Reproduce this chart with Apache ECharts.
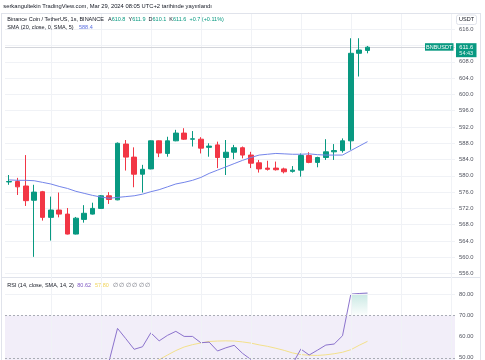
<!DOCTYPE html>
<html><head><meta charset="utf-8">
<script src="https://cdn.jsdelivr.net/npm/echarts@6/dist/echarts.min.js"></script>
<style>html,body{margin:0;padding:0;background:#fff}#c{width:485px;height:360px}</style>
</head><body><div id="c"></div>
<script>
// 54 one-second slots; the last 10 are empty (future space)
const categories = ['1','2','3','4','5','6','7','8','9','10','11','12','13','14','15','16','17','18','19','20','21','22','23','24','25','26','27','28','29','30','31','32','33','34','35','36','37','38','39','40','41','42','43','44','45','46','47','48','49','50','51','52','53','54'];
const opens  = [578.5,578.6,577.5,574.0,576.1,569.8,571.6,570.6,565.7,569.3,570.6,572.0,575.1,574.1,587.8,584.6,580.4,581.7,588.6,585.5,588.6,590.5,589.0,589.0,587.0,587.6,584.5,585.8,586.9,585.1,583.2,581.9,581.9,581.7,581.1,581.4,585.0,583.3,584.5,585.9,586.2,588.6,610.1,610.8];
const closes = [578.6,577.3,573.9,576.0,569.8,571.6,570.6,565.7,569.6,570.8,572.0,575.1,574.2,588.0,584.6,580.4,581.6,588.6,585.6,588.6,590.5,589.0,589.1,586.8,587.3,584.5,585.8,586.9,585.1,583.1,581.7,581.6,581.5,581.0,581.4,585.0,583.3,584.5,585.9,586.2,588.6,610.1,610.9,611.6];
const highs  = [580.2,579.5,585.1,577.8,576.3,574.9,575.9,572.1,569.9,572.8,573.4,575.3,576.0,588.2,588.8,587.0,582.7,588.7,588.7,589.6,591.3,591.7,591.0,589.5,588.0,588.4,588.8,587.6,587.2,585.9,583.9,583.7,583.5,582.0,582.4,585.5,585.8,584.7,589.0,587.8,589.2,613.8,613.8,611.9];
const lows   = [577.8,575.3,572.6,560.1,569.0,564.1,569.8,565.6,565.6,568.5,570.5,571.9,573.1,574.0,581.3,577.2,575.9,581.6,584.6,584.7,588.5,588.8,587.2,585.5,584.7,581.9,580.2,584.1,584.3,581.9,580.8,581.3,581.3,580.6,580.8,579.8,583.1,582.1,583.9,583.9,585.7,586.4,604.4,610.1];
const smaValues = [579.0,578.9,578.9,578.8,578.4,578.0,577.4,576.9,576.2,575.7,575.2,574.8,574.5,574.7,574.9,575.1,575.5,576.1,576.6,577.3,578.0,578.4,578.9,579.6,580.6,581.4,582.2,583.0,583.8,584.5,585.1,585.3,585.5,585.4,585.3,585.3,585.4,585.2,585.1,585.1,585.1,586.2,587.3,588.4];
const rsiValues = [null,null,null,null,null,null,null,null,null,null,null,42,48.5,63.9,59.0,54.0,55.2,61.8,58.0,60.6,62.5,60.1,60.1,57.1,57.4,53.2,54.7,55.9,52.1,49.2,46.5,45.5,45.0,43.5,47.0,54.1,51.3,53.6,56.0,56.5,60.4,80.1,80.4,80.62];
const rsiMaValues = [null,null,null,null,null,null,null,null,null,null,null,null,null,null,null,null,null,46.5,49.1,51.3,53.4,55.1,56.2,57.0,57.7,57.9,58.0,57.9,57.5,56.95,56.1,55.4,54.5,53.5,52.3,51.5,51.2,51.1,51.4,51.9,52.6,53.8,55.9,57.8];
const priceTicks = [556,560,564,568,572,576,580,584,588,592,596,600,604,608,616];
const priceGrid = [556,560,564,568,572,576,580,584,588,592,596,600,604,608,612,616];
const rsiTicks = [50,60,70,80];
const vGridIdx = [5,11,17,23,29,35,41,47,53];
const lastPrice = 611.6;

const FONT = 'Liberation Sans, Arial, sans-serif';
const chart = echarts.init(document.getElementById('c'), null, {renderer:'canvas'});

const candleData = opens.map((o,i)=>[o, closes[i], lows[i], highs[i]]);
const fillData = rsiValues.map((v,i)=> (v !== null && v >= 70) ? v : null);

const gridLineStyle = {color:'#f0f2f6', width:1, type:'solid'};

chart.setOption({
  animation:false,
  backgroundColor:'#ffffff',
  textStyle:{fontFamily:FONT},
  grid:[
    {left:5, right:30, top:13, height:264, outerBoundsMode:'none'},
    {left:5, right:30, top:277, height:101.9, outerBoundsMode:'none'}
  ],
  xAxis:[
    {type:'category', data:categories, gridIndex:0, boundaryGap:true, show:false},
    {type:'category', data:categories, gridIndex:1, boundaryGap:true, show:false}
  ],
  yAxis:[
    {type:'value', gridIndex:0, position:'right', min:555.15, max:620, scale:true,
     axisLine:{show:false}, axisTick:{show:false}, splitLine:{show:false},
     axisLabel:{customValues:priceTicks, formatter:v=>v.toFixed(1), fontSize:5.8, color:'#50535e', margin:4, fontFamily:FONT}},
    {type:'value', gridIndex:1, position:'right', min:40, max:88.2,
     axisLine:{show:false}, axisTick:{show:false}, splitLine:{show:false},
     axisLabel:{customValues:rsiTicks, formatter:v=>v.toFixed(2), fontSize:5.8, color:'#50535e', margin:4, fontFamily:FONT}}
  ],
  series:[
    {type:'candlestick', xAxisIndex:0, yAxisIndex:0, data:candleData, barWidth:5,
     itemStyle:{color:'#089981', color0:'#F23645', borderColor:'#089981', borderColor0:'#F23645', borderColorDoji:'#089981', borderWidth:1},
     markLine:{silent:true, symbol:'none', label:{show:false}, lineStyle:gridLineStyle, z:0,
       data:[
         ...vGridIdx.map(i=>({xAxis:categories[i]})),
         ...priceGrid.map(v=>({yAxis:v})),
         {yAxis:lastPrice, lineStyle:{color:'#d3d5db', width:1, type:'solid'}}
       ]}
    },
    {type:'line', xAxisIndex:0, yAxisIndex:0, data:smaValues, showSymbol:false, symbol:'none',
     lineStyle:{color:'#7485ea', width:1}, z:3},
    {type:'line', xAxisIndex:1, yAxisIndex:1, data:fillData, showSymbol:false, symbol:'none',
     lineStyle:{width:0}, connectNulls:false,
     areaStyle:{origin:70, color:new echarts.graphic.LinearGradient(0,0,0,1,[{offset:0,color:'rgba(8,153,129,0.32)'},{offset:1,color:'rgba(8,153,129,0.02)'}])},
     markArea:{silent:true, itemStyle:{color:'rgba(126,87,194,0.1)'}, data:[[{yAxis:30},{yAxis:70}]]},
     markLine:{silent:true, symbol:'none', label:{show:false},
       data:[
         ...vGridIdx.map(i=>({xAxis:categories[i], lineStyle:gridLineStyle})),
         {yAxis:80, lineStyle:gridLineStyle},
         {yAxis:70, lineStyle:{color:'#a9acb5', width:1, type:[2,2]}},
         {yAxis:50, lineStyle:{color:'#a9acb5', width:1, type:[2,2]}},
         {yAxis:30, lineStyle:{color:'#a9acb5', width:1, type:[2,2]}}
       ]}
    },
    {type:'line', xAxisIndex:1, yAxisIndex:1, data:rsiMaValues, showSymbol:false, symbol:'none',
     lineStyle:{color:'#f3e08a', width:1}, z:3},
    {type:'line', xAxisIndex:1, yAxisIndex:1, data:rsiValues, showSymbol:false, symbol:'none',
     lineStyle:{color:'#8b72cc', width:1}, z:4}
  ]
});

const tagY = chart.convertToPixel({yAxisIndex:0}, lastPrice);
const dark = '#131722';
const t = (x, y, text, color, size, extra) => Object.assign({type:'text', x:x, y:y, silent:true, z:100,
  style:{text:text, fill:color, font:(size||5.5)+'px '+FONT, verticalAlign:'middle', align:'left'}}, extra||{});

chart.setOption({graphic:[
  // frame lines
  {type:'line', silent:true, shape:{x1:1, y1:13.5, x2:481, y2:13.5}, style:{stroke:'#e0e3eb', lineWidth:1}},
  {type:'line', silent:true, shape:{x1:1.5, y1:13.5, x2:1.5, y2:360}, style:{stroke:'#e0e3eb', lineWidth:1}},
  {type:'line', silent:true, shape:{x1:480.5, y1:13.5, x2:480.5, y2:360}, style:{stroke:'#e0e3eb', lineWidth:1}},
  {type:'line', silent:true, shape:{x1:1, y1:277.5, x2:481, y2:277.5}, style:{stroke:'#e0e3eb', lineWidth:1}},
  // header
  t(3.3, 6.3, 'serkangultekin TradingView.com, Mar 29, 2024 08:05 UTC+2 tarihinde yayınlandı', dark, 5.8),
  // legend
  t(7.3, 19.3, 'Binance Coin / TetherUS, 1s, BINANCE', dark),
  {type:'text', x:108, y:19.3, silent:true, z:100, style:{text:'{l|A}{g|610.8}  {l|Y}{g|611.9}  {l|D}{g|610.1}  {l|K}{g|611.6}  {g|+0.7 (+0.11%)}', verticalAlign:'middle', align:'left', font:'5.5px '+FONT,
    rich:{l:{fill:dark, font:'5.5px '+FONT}, g:{fill:'#089981', font:'5.5px '+FONT}}}},
  t(7.3, 27.5, 'SMA (20, close, 0, SMA, 5)', dark),
  t(79, 27.5, '588.4', '#5a6fe0'),
  // RSI legend
  t(7.3, 285.8, 'RSI (14, close, SMA, 14, 2)', dark),
  t(77.3, 285.8, '80.62', '#7e57c2'),
  t(95, 285.8, '57.80', '#f0d35a'),
  t(112.7, 285.8, '∅ ∅ ∅ ∅ ∅ ∅', '#6a6d78'),
  // USDT box
  {type:'rect', silent:true, z:99, shape:{x:456.5, y:15, width:20, height:9.5, r:2}, style:{fill:'#ffffff', stroke:'#e0e3eb', lineWidth:1}},
  {type:'text', silent:true, z:100, x:466.5, y:19.9, style:{text:'USDT', fill:dark, font:'5.5px '+FONT, align:'center', verticalAlign:'middle'}},
  // price tags
  {type:'rect', silent:true, z:99, shape:{x:425, y:tagY-4, width:28.5, height:7.5}, style:{fill:'#089981'}},
  {type:'text', silent:true, z:100, x:439.2, y:tagY-0.2, style:{text:'BNBUSDT', fill:'#ffffff', font:'5.5px '+FONT, align:'center', verticalAlign:'middle'}},
  {type:'rect', silent:true, z:99, shape:{x:456, y:tagY-4, width:20.5, height:14}, style:{fill:'#089981'}},
  {type:'text', silent:true, z:100, x:466.2, y:tagY-0.2, style:{text:'611.6', fill:'#ffffff', font:'5.8px '+FONT, align:'center', verticalAlign:'middle'}},
  {type:'text', silent:true, z:100, x:466.2, y:tagY+6.2, style:{text:'54:43', fill:'#e6f5f2', font:'5.5px '+FONT, align:'center', verticalAlign:'middle'}}
]});
</script>
</body></html>
